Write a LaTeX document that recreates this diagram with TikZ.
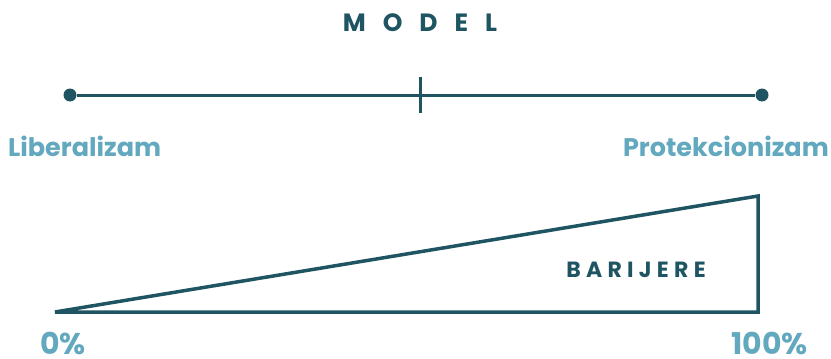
\documentclass[tikz,border=0pt]{standalone}
\usepackage{fontspec}
\setmainfont{Poppins}
\newfontfamily\spacedfont[LetterSpace=68]{Poppins}
\newfontfamily\spacedfontb[LetterSpace=24]{Poppins}
\definecolor{darkteal}{HTML}{1F5563}
\definecolor{lightteal}{HTML}{62A8BE}
\tikzset{
  title/.style={text=darkteal, font=\spacedfont\bfseries\fontsize{25}{25}\selectfont, inner sep=0pt},
  endlabel/.style={text=lightteal, font=\bfseries\fontsize{25.5}{25.5}\selectfont, inner sep=0pt},
  pct/.style={text=lightteal, font=\bfseries\fontsize{30}{30}\selectfont, inner sep=0pt, text depth=0pt},
  barlabel/.style={text=darkteal, font=\spacedfontb\bfseries\fontsize{22}{22}\selectfont, inner sep=0pt},
  axis/.style={draw=darkteal, line width=3pt},
  dot/.style={circle, fill=darkteal, minimum size=13pt, inner sep=0pt},
  wedge/.style={draw=darkteal, line width=3.5pt, line join=miter}
}
\begin{document}
\begin{tikzpicture}[x=1pt,y=-1pt]
\useasboundingbox (0,0) rectangle (831,359);
\node[title, anchor=base] (model) at (420,31) {MODEL};
\node[dot] (l) at (70,95) {};
\node[dot] (r) at (762,95) {};
\draw[axis] (l) -- (r);
\coordinate (tt) at (420,77);
\coordinate (tb) at (420,113);
\draw[axis] (tt) -- (tb);
\node[endlabel, anchor=base west] (lib) at (8,156) {Liberalizam};
\node[endlabel, anchor=base east] (pro) at (829,156) {Protekcionizam};
\coordinate (a) at (55,312);
\coordinate (b) at (758,196);
\coordinate (c) at (758,312);
\draw[wedge] (a) -- (b) -- (c) -- cycle;
\node[barlabel, anchor=base] (bar) at (636,277) {BARIJERE};
\node[pct, anchor=base west] (p0) at (40,354) {0\%};
\node[pct, anchor=base east] (p100) at (808,354) {100\%};
\end{tikzpicture}
\end{document}
